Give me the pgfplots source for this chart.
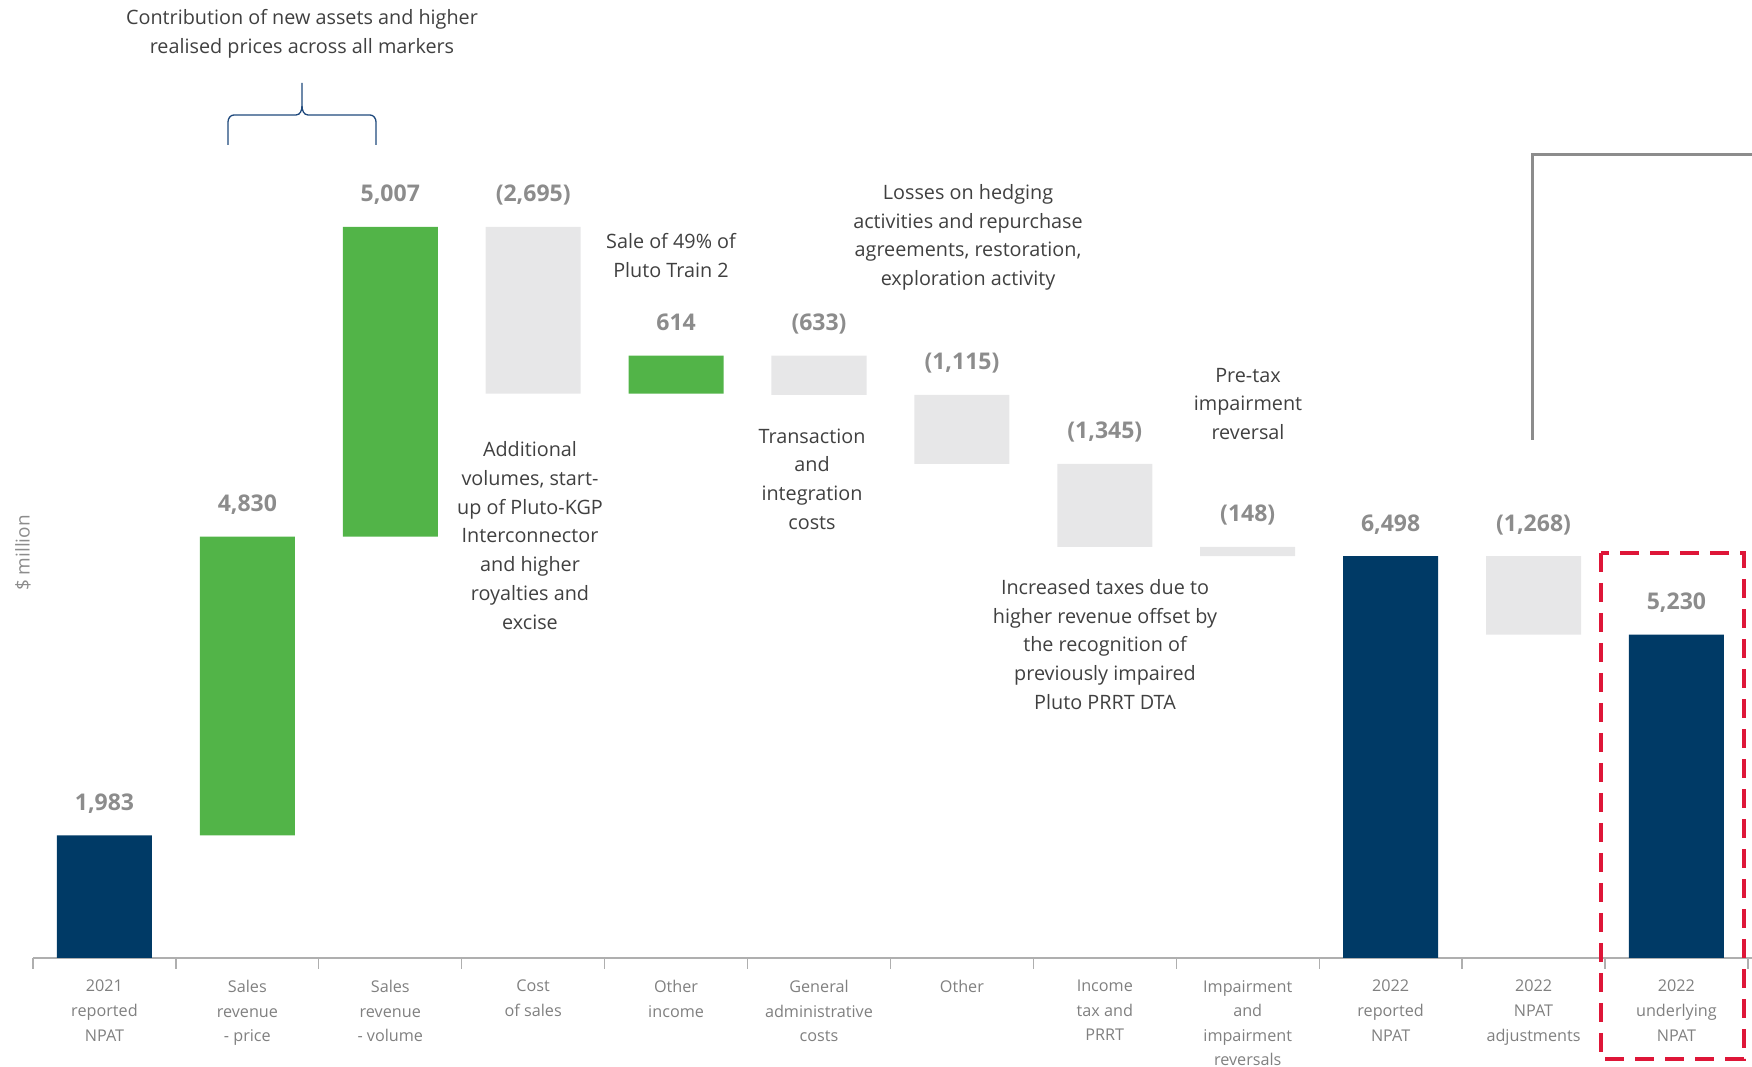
\documentclass[border=0pt]{standalone}
\usepackage{fontspec}
\setmainfont{Open Sans}
\usepackage{pgfplots}
\pgfplotsset{compat=1.18}
\usepackage{pgfplotstable}

\definecolor{navy}{RGB}{0,58,102}
\definecolor{wgreen}{RGB}{82,180,72}
\definecolor{wgrey}{RGB}{231,231,232}
\definecolor{valgrey}{RGB}{140,140,140}
\definecolor{txtgrey}{RGB}{64,64,64}
\definecolor{catgrey}{RGB}{128,128,128}
\definecolor{axgrey}{RGB}{175,175,175}
\definecolor{boxred}{RGB}{222,22,56}
\definecolor{bracenavy}{RGB}{31,73,125}

\newcommand\annfont{\fontsize{19.8}{28.7}\selectfont}
\newcommand\catfont{\fontsize{16.2}{24.6}\selectfont}
\newcommand\valfont{\fontsize{23}{26}\selectfont\bfseries}

% waterfall: invisible base + visible step, top = label position
\pgfplotstableread{
x  base  navy  green  grey  top    label
0  0     1983  0      0     1983   {1,983}
1  1983  0     4830   0     6813   {4,830}
2  6813  0     5007   0     11820  {5,007}
3  9125  0     0      2695  11820  {(2,695)}
4  9125  0     614    0     9739   {614}
5  9106  0     0      633   9739   {(633)}
6  7991  0     0      1115  9106   {(1,115)}
7  6646  0     0      1345  7991   {(1,345)}
8  6498  0     0      148   6646   {(148)}
9  0     6498  0      0     6498   {6,498}
10 5230  0     0      1268  6498   {(1,268)}
11 0     5230  0      0     5230   {5,230}
}\npat

\pgfplotsset{frame/.style={scale only axis, width=1752pt, height=958pt,
  xmin=-0.731, xmax=11.529, ymin=0, ymax=15490, clip=false}}

\begin{document}
\begin{tikzpicture}
\begin{axis}[frame,
  ybar stacked, bar width=0.665,
  hide y axis, axis x line*=bottom, x axis line style={draw=none},
  xtick={0,...,11}, major tick length=0pt,
  minor xtick={-0.5,0.5,...,11.5}, minor tick length=11pt, tick align=outside,
  every minor tick/.style={axgrey, line width=1.3pt},
  xticklabels={{2021\\reported\\NPAT},{Sales\\revenue\\- price},{Sales\\revenue\\- volume},
    {Cost\\of sales},{Other\\income},{General\\administrative\\costs},{Other},
    {Income\\tax and\\PRRT},{Impairment\\and\\impairment\\reversals},
    {2022\\reported\\NPAT},{2022\\NPAT\\adjustments},{2022\\underlying\\NPAT}},
  xticklabel style={align=center, font=\catfont, text=catgrey, anchor=north, inner sep=0pt, yshift=-22pt},
]
\addplot[draw=none, fill=none] table[x=x, y=base]{\npat};
\addplot[draw=none, fill=navy] table[x=x, y=navy]{\npat};
\addplot[draw=none, fill=wgreen] table[x=x, y=green]{\npat};
\addplot[draw=none, fill=wgrey] table[x=x, y=grey]{\npat};
\draw[axgrey, line width=1.8pt] (axis cs:-0.5,0) -- (axis cs:11.55,0);
\end{axis}

% value labels above each step
\begin{axis}[frame, hide axis]
\addplot[draw=none, mark=none, nodes near coords, point meta=explicit symbolic,
  nodes near coords style={font=\valfont, text=valgrey, anchor=base, inner sep=0pt, yshift=25pt}]
  table[x=x, y=top, meta=label]{\npat};
\end{axis}

\begin{scope}[shift={(0,958pt)}, x=1pt, y=-1pt,
  ann/.style={align=center, font=\annfont, text=txtgrey, inner sep=0pt}]
  \node[ann] at (302,34) {Contribution of new assets and higher\\realised prices across all markers};
  \node[ann] at (530,535.5) {Additional\\volumes, start-\\up of Pluto-KGP\\Interconnector\\and higher\\royalties and\\excise};
  \node[ann] at (671,255.5) {Sale of 49\% of\\Pluto Train 2};
  \node[ann] at (812,479) {Transaction\\and\\integration\\costs};
  \node[ann] at (968,237.5) {Losses on hedging\\activities and repurchase\\agreements, restoration,\\exploration activity};
  \node[ann] at (1248,404) {Pre-tax\\impairment\\reversal};
  \node[ann] at (1105,644.5) {Increased taxes due to\\higher revenue offset by\\the recognition of\\previously impaired\\Pluto PRRT DTA};
  \node[rotate=90, font=\fontsize{19}{22}\selectfont, text=valgrey, inner sep=0pt] at (23,553) {\$ million};
  % brace over the two sales revenue bars
  \draw[bracenavy, line width=1.3pt] (228,145) -- (228,122) to[out=90,in=180] (234,115) -- (296,115) to[out=0,in=-90] (302,106) -- (302,83);
  \draw[bracenavy, line width=1.3pt] (376,145) -- (376,122) to[out=90,in=0] (370,115) -- (308,115) to[out=180,in=-90] (302,106);
  % grey bracket and red highlight box
  \draw[valgrey, line width=3pt] (1532,440) -- (1532,155) -- (1760,155);
  \draw[boxred, line width=4.5pt, dash pattern=on 19pt off 11pt] (1601,553) rectangle (1744,1059);
\end{scope}
\pgfresetboundingbox
\useasboundingbox (0,-109pt) rectangle (1752pt,958pt);
\end{tikzpicture}
\end{document}
